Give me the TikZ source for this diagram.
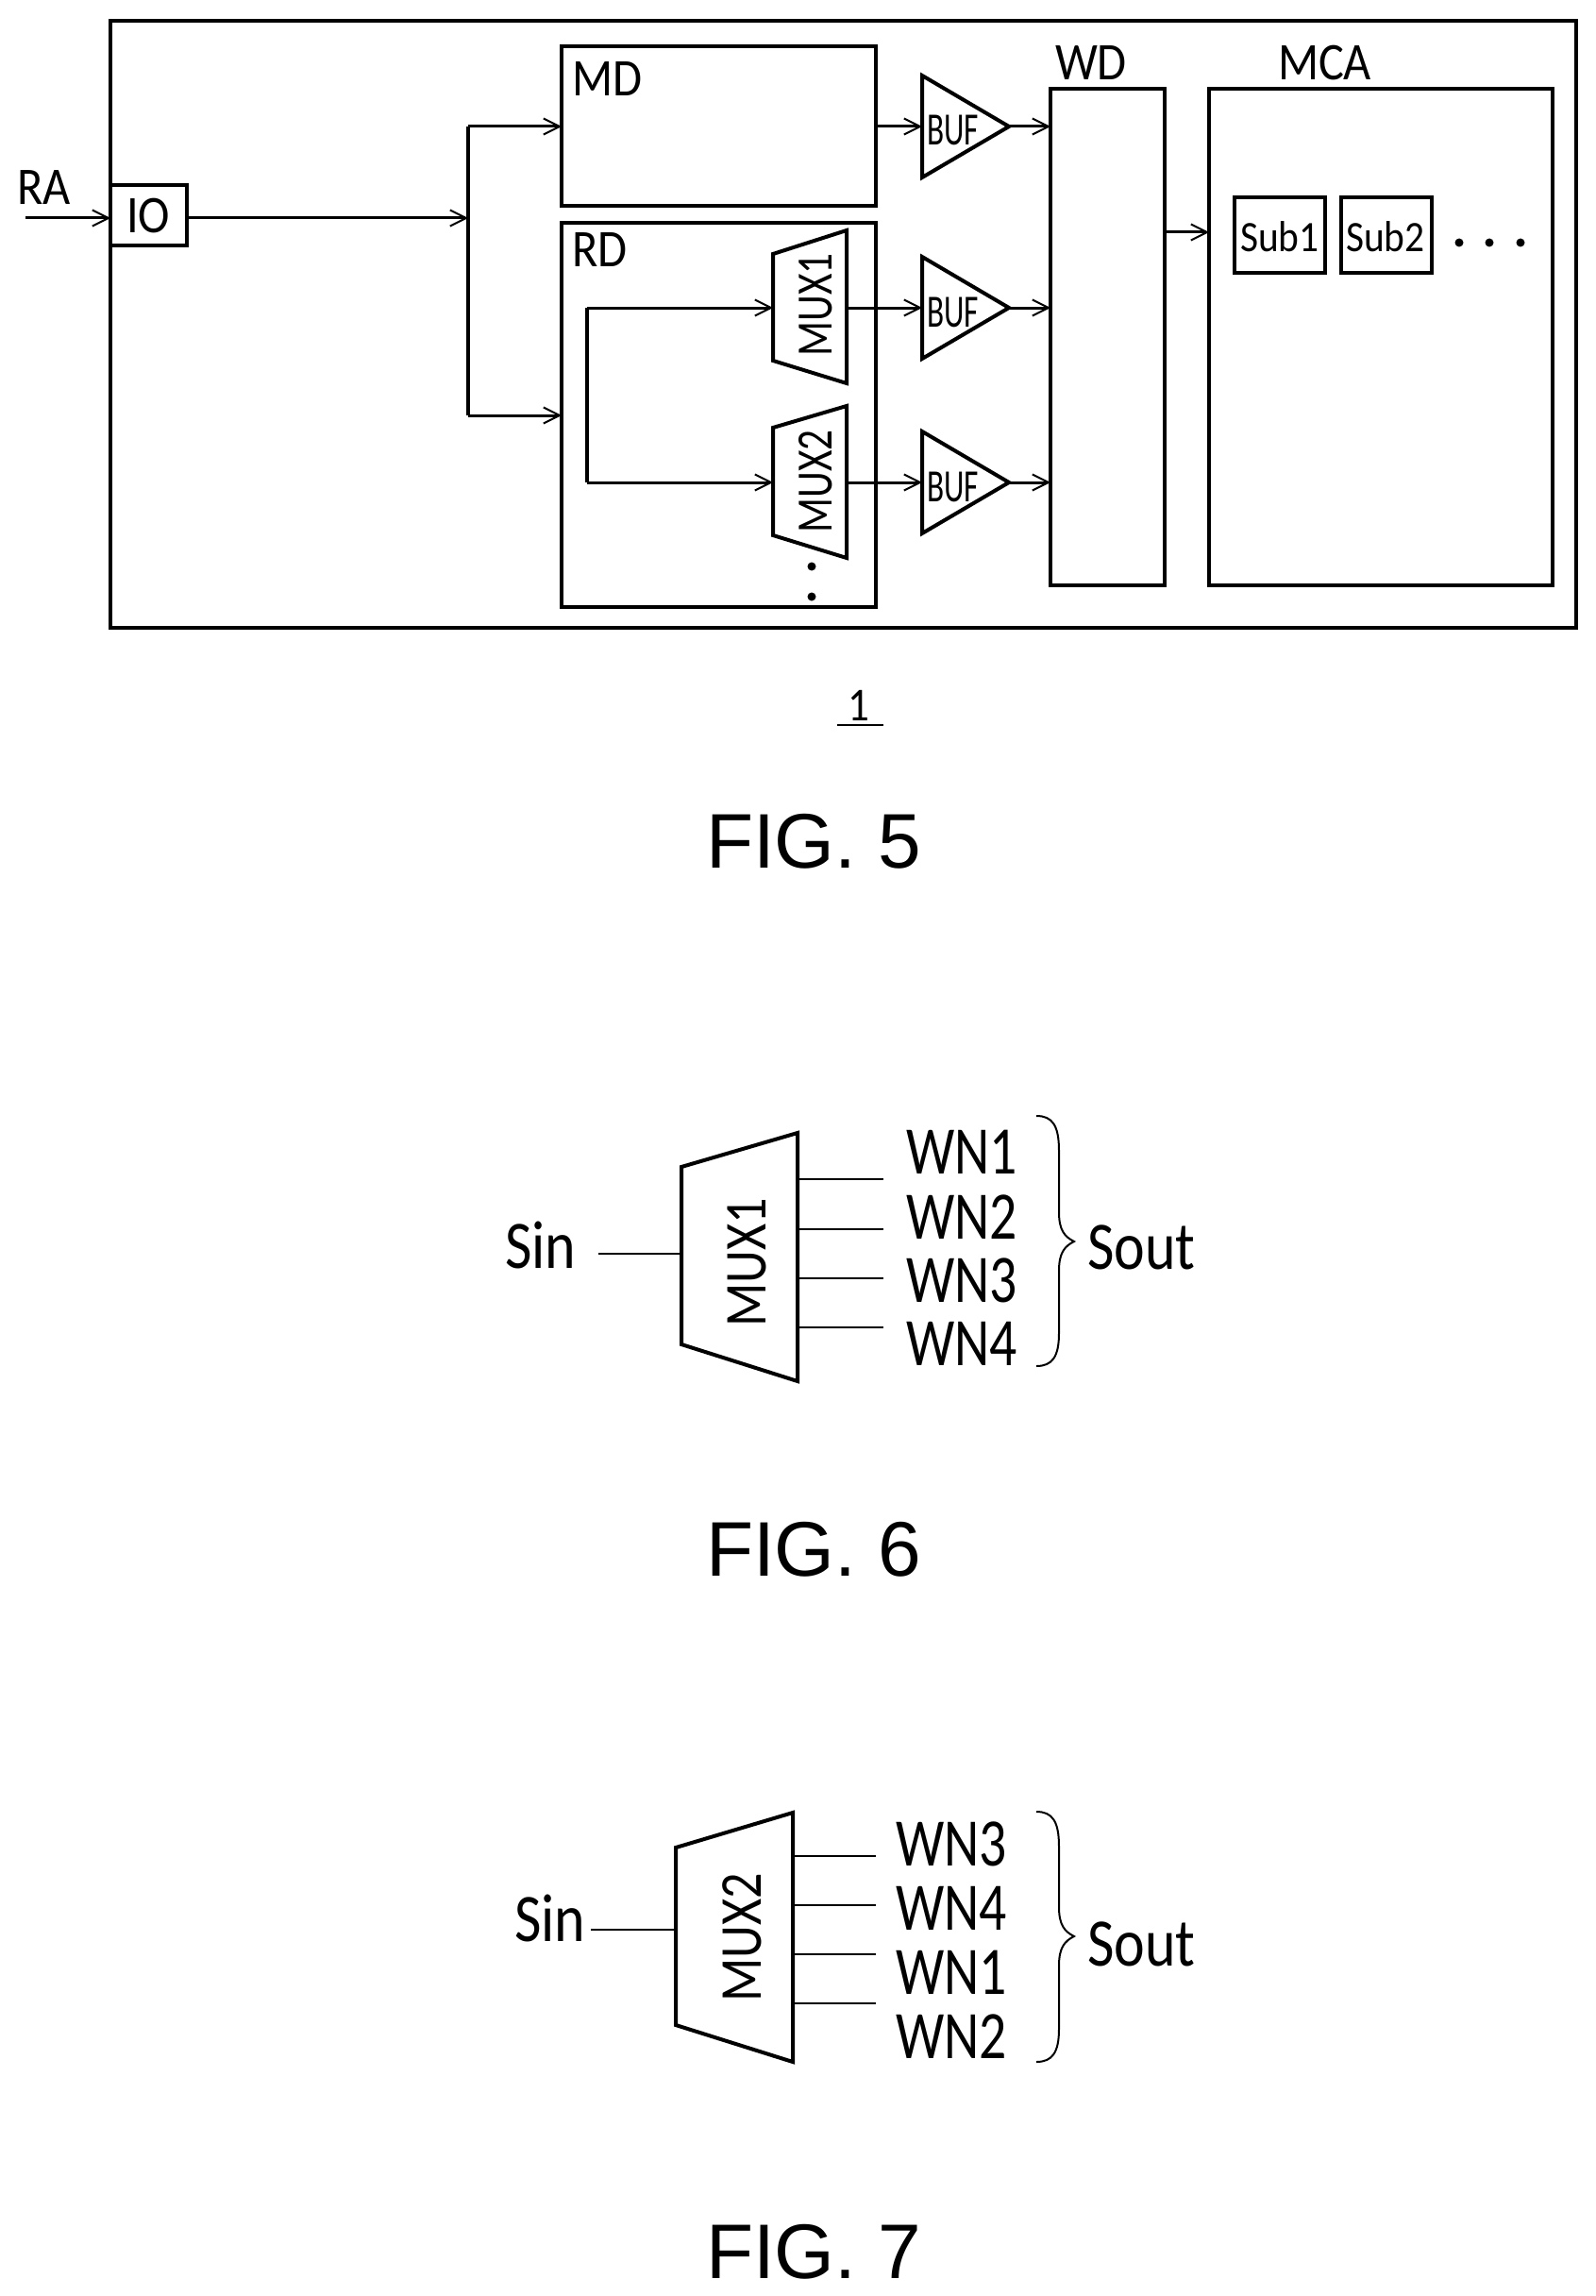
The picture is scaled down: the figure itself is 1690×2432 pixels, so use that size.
\documentclass[tikz,border=0pt]{standalone}
\usepackage{fontspec}
\usetikzlibrary{arrows.meta}
\setmainfont{Carlito}
\newfontfamily\labA[FakeStretch=0.90]{Carlito}
\newfontfamily\labB[FakeStretch=0.68]{Carlito}
\newfontfamily\labC[FakeStretch=0.80]{Carlito}
\newfontfamily\labD[FakeStretch=0.86]{Carlito}
\newfontfamily\figf{Liberation Sans}
\tikzset{
  boxn/.style={draw,line width=4pt,inner sep=0pt,outer sep=0pt,anchor=north west},
  shapeline/.style={line width=4pt,line join=miter},
  wire/.style={line width=3.2pt},
  thinw/.style={line width=2.2pt},
  arr/.style={line width=3pt,-{Straight Barb[length=17pt,width=17pt,line width=2pt]}},
  brc/.style={line width=2pt},
  lab/.style={inner sep=0pt,outer sep=0pt,anchor=base west,font=\labA\fontsize{56}{60}\selectfont},
  wlab/.style={inner sep=0pt,outer sep=0pt,anchor=base west,font=\labC\fontsize{72}{76}\selectfont},
  slab/.style={inner sep=0pt,outer sep=0pt,anchor=base west,font=\labD\fontsize{72}{76}\selectfont},
  buflab/.style={inner sep=0pt,outer sep=0pt,anchor=base west,font=\labB\fontsize{49}{52}\selectfont},
  sublab/.style={inner sep=0pt,outer sep=0pt,anchor=base west,font=\labA\fontsize{46}{50}\selectfont},
  muxlab/.style={inner sep=0pt,outer sep=0pt,rotate=90,font=\labC\fontsize{54}{58}\selectfont},
  muxbig/.style={inner sep=0pt,outer sep=0pt,rotate=90,font=\labD\fontsize{63}{66}\selectfont},
  figlab/.style={inner sep=0pt,outer sep=0pt,anchor=base west,font=\figf\fontsize{82}{86}\selectfont},
  dotn/.style={circle,fill=black,inner sep=0pt,minimum size=9pt},
}
\begin{document}
\begin{tikzpicture}[x=1pt,y=-1pt]
\useasboundingbox (0,0) rectangle (1690,2432);
\fill[white] (0,0) rectangle (1690,2432);
% boxes
\node[boxn,minimum width=1553pt,minimum height=643pt] (outer) at (117,22) {};
\node[boxn,minimum width=81pt,minimum height=64pt] (io) at (117,196) {};
\node[boxn,minimum width=333pt,minimum height=169pt] (md) at (595,49) {};
\node[boxn,minimum width=333pt,minimum height=407pt] (rd) at (595,236) {};
\node[boxn,minimum width=121pt,minimum height=526pt] (wd) at (1113,94) {};
\node[boxn,minimum width=364pt,minimum height=526pt] (mca) at (1281,94) {};
\node[boxn,minimum width=96pt,minimum height=80pt] (sub1) at (1308,209) {};
\node[boxn,minimum width=96pt,minimum height=80pt] (sub2) at (1421,209) {};
% labels
\node[lab] (tRA) at (18,217) {RA};
\node[lab] (tIO) at (134,247) {IO};
\node[lab] (tMD) at (606,102) {MD};
\node[lab] (tRD) at (606,283) {RD};
\node[lab] (tWD) at (1118,85) {WD};
\node[lab] (tMCA) at (1354,85) {MCA};
\node[sublab] (tS1) at (1314,266) {Sub1};
\node[sublab] (tS2) at (1426,266) {Sub2};
\node[dotn] (d1) at (1546,257) {};
\node[dotn] (d2) at (1578,257) {};
\node[dotn] (d3) at (1611,257) {};
% muxes in RD
\coordinate (m1tl) at (819,269); \coordinate (m1tr) at (897,244);
\coordinate (m1bl) at (819,382); \coordinate (m1br) at (897,406);
\coordinate (m2tl) at (819,453); \coordinate (m2tr) at (897,430);
\coordinate (m2bl) at (819,567); \coordinate (m2br) at (897,591);
\draw[shapeline] (m1tl)--(m1tr)--(m1br)--(m1bl)--cycle;
\draw[shapeline] (m2tl)--(m2tr)--(m2br)--(m2bl)--cycle;
\node[muxlab] (tM1) at (864,323) {MUX1};
\node[muxlab] (tM2) at (864,510) {MUX2};
\node[dotn] (d4) at (860,600) {};
\node[dotn] (d5) at (860,632) {};
% buffers
\foreach \n/\yy in {1/134,2/326,3/511}{
  \coordinate (b\n a) at (977,\yy-54);
  \coordinate (b\n b) at (977,\yy+54);
  \coordinate (b\n in) at (977,\yy);
  \coordinate (b\n out) at (1069,\yy);
  \draw[shapeline] (b\n a)--(b\n out)--(b\n b)--cycle;
  \node[buflab] (tB\n) at (982,\yy+20) {BUF};
}
% connectors
\coordinate (raS) at (27,231);
\coordinate (junc) at (496,231);
\coordinate (juncT) at (496,134);
\coordinate (juncB) at (496,440);
\coordinate (wT) at (622,326);
\coordinate (wB) at (622,511);
\draw[arr] (raS) -- (raS -| io.west);
\draw[arr] (junc -| io.east) -- (junc);
\draw[wire] (juncT) -- (juncB);
\draw[arr] (juncT) -- (juncT -| md.west);
\draw[arr] (juncB) -- (juncB -| rd.west);
\draw[wire] (wT) -- (wB);
\draw[arr] (wT) -- (wT -| m1tl);
\draw[arr] (wB) -- (wB -| m2tl);
\draw[arr] (b1in -| md.east) -- (b1in);
\draw[arr] (b2in -| m1tr) -- (b2in);
\draw[arr] (b3in -| m2tr) -- (b3in);
\draw[arr] (b1out) -- (b1out -| wd.west);
\draw[arr] (b2out) -- (b2out -| wd.west);
\draw[arr] (b3out) -- (b3out -| wd.west);
\coordinate (wm) at (1200,246);
\draw[arr] (wm -| wd.east) -- (wm -| mca.west);
% ref 1
\node[lab,font=\labA\fontsize{50}{54}\selectfont] (one) at (898,763) {1};
\coordinate (u1) at (887,768); \coordinate (u2) at (936,768);
\draw[thinw] (u1) -- (u2);
\node[figlab] (fig5) at (748,919) {FIG. 5};
% FIG 6
\begin{scope}[shift={(-2,-6)}]
\coordinate (f6tl) at (724,1242); \coordinate (f6tr) at (847,1206);
\coordinate (f6bl) at (724,1430); \coordinate (f6br) at (847,1469);
\draw[shapeline] (f6tl)--(f6tr)--(f6br)--(f6bl)--cycle;
\node[muxbig] (tM6) at (793,1343) {MUX1};
\node[slab] (s6) at (537,1349) {Sin};
\coordinate (s6w) at (636,1334);
\draw[line width=1.6pt] (s6w) -- (s6w -| f6tl);
\foreach \t/\yy/\bb in {1/1255/1249,2/1308/1318,3/1360/1385,4/1412/1452}{
  \coordinate (f6o\t) at (847,\yy);
  \coordinate (f6e\t) at (938,\yy);
  \draw[thinw] (f6o\t) -- (f6e\t);
  \node[wlab] (w6\t) at (962,\bb) {WN\t};
}
\draw[brc] (1100,1188) .. controls (1117,1188) and (1124,1198) .. (1124,1225) -- (1124,1290)
  .. controls (1124,1309) and (1130,1316) .. (1140,1321)
  .. controls (1130,1326) and (1124,1333) .. (1124,1352) -- (1124,1418)
  .. controls (1124,1443) and (1117,1453) .. (1100,1453);
\node[slab] (so6) at (1154,1350) {Sout};
\end{scope}
\node[figlab] (fig6) at (748,1669) {FIG. 6};
% FIG 7
\begin{scope}[shift={(-2,-9)}]
\coordinate (f7tl) at (718,1966); \coordinate (f7tr) at (842,1929);
\coordinate (f7bl) at (718,2154); \coordinate (f7br) at (842,2193);
\draw[shapeline] (f7tl)--(f7tr)--(f7br)--(f7bl)--cycle;
\node[muxbig] (tM7) at (788,2061) {MUX2};
\node[slab] (s7) at (547,2065) {Sin};
\coordinate (s7w) at (628,2053);
\draw[thinw] (s7w) -- (s7w -| f7tl);
\foreach \t/\yy/\bb/\lbl in {1/1975/1985/WN3,2/2027/2053/WN4,3/2079/2121/WN1,4/2131/2189/WN2}{
  \coordinate (f7o\t) at (842,\yy);
  \coordinate (f7e\t) at (930,\yy);
  \draw[thinw] (f7o\t) -- (f7e\t);
  \node[wlab] (w7\t) at (951,\bb) {\lbl};
}
\draw[brc] (1100,1928) .. controls (1117,1928) and (1124,1938) .. (1124,1965) -- (1124,2029)
  .. controls (1124,2048) and (1130,2055) .. (1140,2060)
  .. controls (1130,2065) and (1124,2072) .. (1124,2091) -- (1124,2158)
  .. controls (1124,2183) and (1117,2193) .. (1100,2193);
\node[slab] (so7) at (1154,2091) {Sout};
\end{scope}
\node[figlab] (fig7) at (748,2413) {FIG. 7};
\end{tikzpicture}
\end{document}
